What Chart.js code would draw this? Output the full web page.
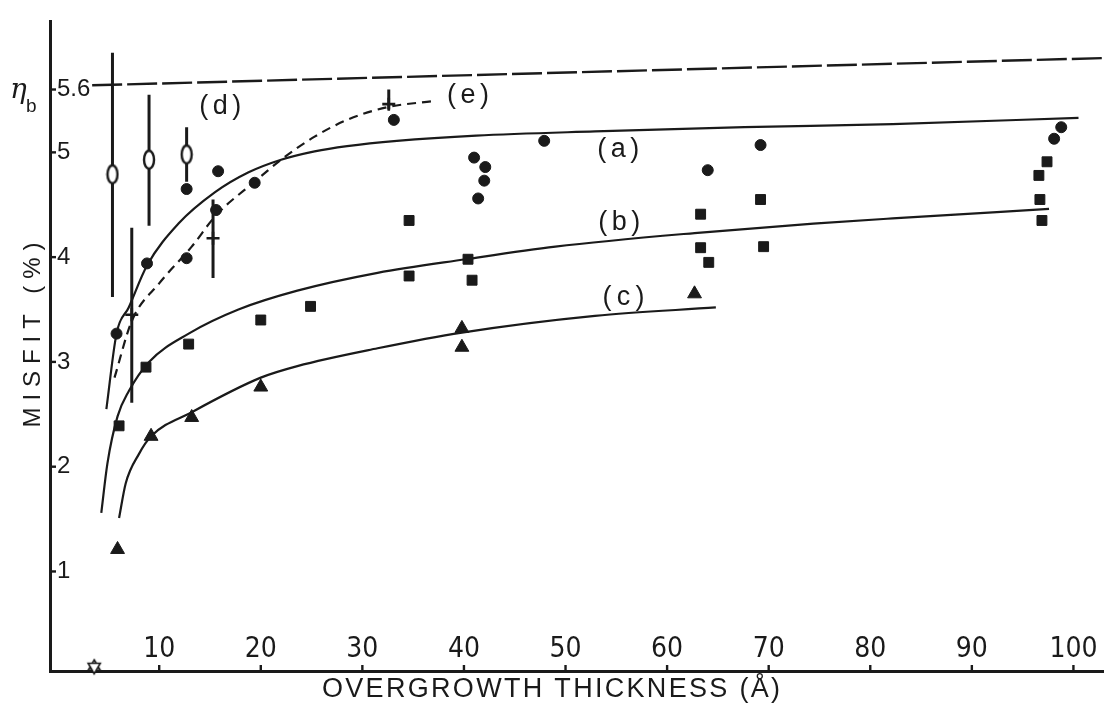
<!DOCTYPE html>
<html>
<head>
<meta charset="utf-8">
<script src="https://cdn.jsdelivr.net/npm/chart.js@4.4.0/dist/chart.umd.min.js"></script>
<style>
  html, body { margin: 0; padding: 0; background: #fff; }
</style>
</head>
<body>
<canvas id="misfitChart" width="1113" height="705"></canvas>
<script>
const INK = '#1a1a1a';
const NARROW = "'Liberation Sans Narrow', 'DejaVu Sans Condensed', 'Liberation Sans', sans-serif";
const PLAIN = "'Liberation Sans', 'DejaVu Sans', sans-serif";

// axis ticks
const xTicks = [10, 20, 30, 40, 50, 60, 70, 80, 90, 100];
const yTicks = [1, 2, 3, 4, 5, 5.6];

// filled circles
const dotX = [5.8, 8.8, 12.7, 15.8, 12.7, 19.4, 15.6, 33.1, 41.0, 42.1, 42.0, 41.4, 47.9, 64.0, 69.2, 98.8, 98.1];
const dotY = [3.27, 3.94, 4.65, 4.82, 3.99, 4.71, 4.45, 5.31, 4.95, 4.86, 4.73, 4.56, 5.11, 4.83, 5.07, 5.24, 5.13];

// filled squares
const sqX = [6.05, 8.7, 12.9, 20.0, 24.9, 34.6, 34.6, 40.4, 40.8, 63.3, 63.3, 64.1, 69.2, 69.5, 97.4, 96.6, 96.7, 96.9];
const sqY = [2.39, 2.95, 3.17, 3.40, 3.53, 4.35, 3.82, 3.98, 3.78, 4.41, 4.09, 3.95, 4.55, 4.10, 4.91, 4.78, 4.55, 4.35];

// triangles
const triX = [5.9, 9.2, 13.2, 20.0, 39.8, 39.8, 62.7];
const triY = [1.21, 2.29, 2.47, 2.76, 3.32, 3.14, 3.65];

// (d) open ellipses with their bars
const dX = [5.4, 9.0, 12.7];
const dY = [4.79, 4.93, 4.98];
const dLo = [3.62, 4.30, 4.72];
const dHi = [5.95, 5.55, 5.24];

// (e) crosses with their bars
const eX = [7.3, 15.3, 32.6];
const eY = [3.45, 4.18, 5.46];
const eLo = [2.61, 3.80, 5.41];
const eHi = [4.28, 4.55, 5.60];

// fitted curves
const curveAX = [4.8, 5.8, 7.0, 8.8, 11.9, 15.5, 18.8, 22.0, 25.3, 28.5, 33.4, 41.2, 52.9, 67.6, 82.2, 100.5];
const curveAY = [2.55, 3.27, 3.52, 3.92, 4.32, 4.62, 4.81, 4.93, 5.01, 5.06, 5.11, 5.16, 5.20, 5.24, 5.27, 5.33];

const curveBX = [4.3, 4.9, 5.9, 7.0, 9.0, 12.9, 17.8, 23.6, 31.5, 40.2, 49.0, 62.7, 74.4, 82.2, 97.6];
const curveBY = [1.56, 2.03, 2.48, 2.72, 3.00, 3.27, 3.50, 3.68, 3.85, 3.98, 4.10, 4.23, 4.32, 4.37, 4.46];

const curveCX = [6.05, 6.7, 8.0, 9.2, 13.2, 20.0, 23.6, 31.5, 39.8, 52.9, 64.8];
const curveCY = [1.51, 1.84, 2.12, 2.29, 2.52, 2.85, 2.96, 3.13, 3.28, 3.44, 3.52];

const curveEX = [5.6, 7.3, 10.0, 13.2, 15.6, 19.4, 22.0, 25.3, 28.5, 32.4, 37.0];
const curveEY = [2.85, 3.39, 3.75, 4.10, 4.40, 4.72, 4.93, 5.15, 5.31, 5.43, 5.49];

// eta_b reference line (as it sits on the scan)
const etaX = [3.4, 103];
const etaY = [5.64, 5.90];

// star on the axis
const starX = [3.6];
const starY = [0.09];

// curve labels
const labelText = ['(a)', '(b)', '(c)', '(d)', '(e)'];
const labelX = [55.2, 55.3, 55.7, 16.0, 40.4];
const labelY = [5.03, 4.33, 3.61, 5.44, 5.54];

function pts(xs, ys) {
  return xs.map((x, i) => ({ x: x, y: ys[i] }));
}

function ellipseMarker() {
  const c = document.createElement('canvas');
  c.width = 14; c.height = 24;
  const g = c.getContext('2d');
  g.fillStyle = '#fff';
  g.strokeStyle = INK;
  g.lineWidth = 2.4;
  g.beginPath();
  g.ellipse(7, 12, 5, 9, 0, 0, Math.PI * 2);
  g.fill();
  g.stroke();
  return c;
}

function starMarker() {
  const c = document.createElement('canvas');
  c.width = 18; c.height = 18;
  const g = c.getContext('2d');
  g.fillStyle = '#fff';
  g.strokeStyle = INK;
  g.lineWidth = 1.6;
  [0, Math.PI].forEach(function(rot) {
    g.beginPath();
    for (let k = 0; k < 3; k++) {
      const a = rot - Math.PI / 2 + k * 2 * Math.PI / 3;
      const px = 9 + 7 * Math.cos(a), py = 9 + 7 * Math.sin(a);
      if (k === 0) g.moveTo(px, py); else g.lineTo(px, py);
    }
    g.closePath();
    g.fill();
    g.stroke();
  });
  return c;
}

function curveSet(xs, ys, dash) {
  return {
    data: pts(xs, ys),
    showLine: true,
    pointRadius: 0,
    borderColor: INK,
    borderWidth: 2.2,
    borderDash: dash || [],
    cubicInterpolationMode: 'monotone',
    order: 10
  };
}

function barSets(xs, lo, hi) {
  return xs.map((x, i) => ({
    data: [{ x: x, y: lo[i] }, { x: x, y: hi[i] }],
    showLine: true,
    pointRadius: 0,
    borderColor: INK,
    borderWidth: 3,
    tension: 0,
    order: 5
  }));
}

function markerSet(xs, ys, style, radius, extra) {
  return Object.assign({
    data: pts(xs, ys),
    pointStyle: style,
    pointRadius: radius,
    backgroundColor: INK,
    borderColor: INK,
    borderWidth: 1,
    order: 0
  }, extra || {});
}

const datasets = [
  curveSet(curveAX, curveAY),
  curveSet(curveBX, curveBY),
  curveSet(curveCX, curveCY),
  curveSet(curveEX, curveEY, [9, 6]),
  Object.assign(curveSet(etaX, etaY, [30, 5]), { borderWidth: 2.4, cubicInterpolationMode: 'default', tension: 0 })
].concat(barSets(dX, dLo, dHi), barSets(eX, eLo, eHi), [
  markerSet(dotX, dotY, 'circle', 5.5),
  markerSet(sqX, sqY, 'rect', 7),
  markerSet(triX, triY, 'triangle', 8),
  markerSet(dX, dY, ellipseMarker(), 8),
  markerSet(eX, eY, 'cross', 6.5, { borderWidth: 2.6 }),
  markerSet(starX, starY, starMarker(), 8, { clip: false })
]);

function spacedText(ctx, text, cx, cy, width) {
  ctx.letterSpacing = '0px';
  const w = ctx.measureText(text).width;
  const ls = Math.max(0, (width - w) / Math.max(1, text.length - 1));
  ctx.letterSpacing = ls + 'px';
  ctx.textAlign = 'left';
  ctx.textBaseline = 'middle';
  ctx.fillText(text, cx - width / 2, cy);
  ctx.letterSpacing = '0px';
}

// tick marks, curve labels, axis titles and the eta_b symbol
const decorations = {
  id: 'decorations',
  afterDraw(chart) {
    const ctx = chart.ctx;
    const x = chart.scales.x, y = chart.scales.y;
    const left = chart.chartArea.left, bottom = chart.chartArea.bottom;
    ctx.save();
    ctx.strokeStyle = INK;
    ctx.fillStyle = INK;
    ctx.lineWidth = 2.4;
    yTicks.forEach(function(v) {
      const py = y.getPixelForValue(v);
      ctx.beginPath();
      ctx.moveTo(left, py);
      ctx.lineTo(left + 6, py);
      ctx.stroke();
    });
    xTicks.forEach(function(v) {
      const px = x.getPixelForValue(v);
      ctx.beginPath();
      ctx.moveTo(px, bottom);
      ctx.lineTo(px, bottom - 6);
      ctx.stroke();
    });

    ctx.font = '27px ' + PLAIN;
    labelText.forEach(function(t, i) {
      spacedText(ctx, t, x.getPixelForValue(labelX[i]), y.getPixelForValue(labelY[i]), 42);
    });

    ctx.font = '27px ' + PLAIN;
    spacedText(ctx, 'OVERGROWTH THICKNESS (Å)', 551, 690, 458);

    ctx.save();
    ctx.translate(33, 335);
    ctx.rotate(-Math.PI / 2);
    ctx.font = '24px ' + PLAIN;
    spacedText(ctx, 'MISFIT (%)', 0, 0, 185);
    ctx.restore();

    const py = y.getPixelForValue(5.6);
    ctx.textAlign = 'left';
    ctx.textBaseline = 'alphabetic';
    ctx.font = 'italic 28px "DejaVu Serif", serif';
    ctx.fillText('η', 10, py + 8);
    ctx.font = '19px ' + PLAIN;
    ctx.fillText('b', 26, py + 22);
    ctx.restore();
  }
};

new Chart(document.getElementById('misfitChart').getContext('2d'), {
  type: 'scatter',
  data: { datasets: datasets },
  options: {
    responsive: false,
    animation: false,
    devicePixelRatio: 1,
    layout: { padding: { left: 36, right: 0, top: 17, bottom: 34 } },
    plugins: { legend: { display: false }, tooltip: { enabled: false } },
    scales: {
      x: {
        type: 'linear',
        min: -0.75,
        max: 103,
        afterBuildTicks: function(scale) { scale.ticks = xTicks.map(v => ({ value: v })); },
        grid: { display: false, drawTicks: false },
        border: { display: true, color: INK, width: 3 },
        ticks: { padding: -38, color: INK, font: { family: NARROW, size: 28 } }
      },
      y: {
        type: 'linear',
        min: 0.05,
        max: 6.25,
        afterBuildTicks: function(scale) { scale.ticks = yTicks.map(v => ({ value: v })); },
        grid: { display: false, drawTicks: false },
        border: { display: true, color: INK, width: 3 },
        ticks: {
          mirror: true,
          padding: 7,
          color: INK,
          font: { family: PLAIN, size: 24 },
          callback: function(v) { return String(v); }
        }
      }
    }
  },
  plugins: [decorations]
});
</script>
</body>
</html>
